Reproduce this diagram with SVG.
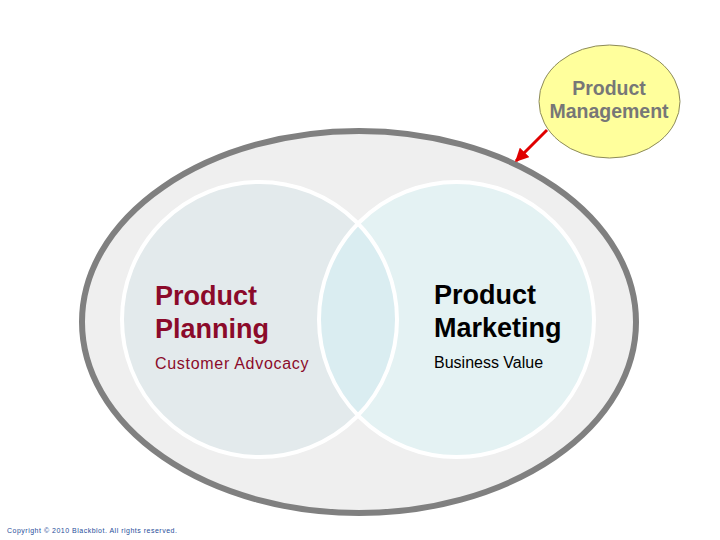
<svg xmlns="http://www.w3.org/2000/svg" width="720" height="540" viewBox="0 0 720 540">
<style>
.t{font-family:"Liberation Sans",Arial,sans-serif}
.big{font-size:27px;font-weight:bold}
.sub{font-size:16px}
.red{fill:#8b0a2a}
.blk{fill:#000}
.pm{font-size:19.5px;font-weight:bold;fill:#777777;text-anchor:middle}
</style>
<defs>
<marker id="ah" viewBox="0 0 10 10" refX="9" refY="5" markerWidth="4.5" markerHeight="4.5" orient="auto" markerUnits="strokeWidth">
<path d="M0,0 L10,5 L0,10 z" fill="#e00000"/>
</marker>
</defs>
<rect width="720" height="540" fill="#fff"/>
<g id="outer">
<ellipse cx="359" cy="322" rx="277" ry="191" fill="#efefef" stroke="#808080" stroke-width="6"/>
</g>
<g id="planning">
<circle cx="259.5" cy="319.5" r="137.5" fill="#e3eaec"/>
</g>
<g id="marketing">
<circle cx="456.5" cy="319.5" r="137.5" fill="#e4f2f3"/>
</g>
<g id="overlap">
<path d="M358,223.5 A137.5,137.5 0 0 1 358,415.5 A137.5,137.5 0 0 1 358,223.5 Z" fill="#daedf1"/>
<circle cx="259.5" cy="319.5" r="137.5" fill="none" stroke="#fff" stroke-width="4"/>
<circle cx="456.5" cy="319.5" r="137.5" fill="none" stroke="#fff" stroke-width="4"/>
</g>
<g id="planning-text">
<text class="t big red" x="155" y="305">Product</text>
<text class="t big red" x="155" y="338">Planning</text>
<text class="t sub red" x="155" y="369" letter-spacing="0.7">Customer Advocacy</text>
</g>
<g id="marketing-text">
<text class="t big blk" x="434" y="304">Product</text>
<text class="t big blk" x="434" y="337">Marketing</text>
<text class="t sub blk" x="434" y="368">Business Value</text>
</g>
<g id="product-management">
<ellipse cx="609.5" cy="101.5" rx="70.5" ry="56.5" fill="#ffff9c" stroke="#8c8a5a" stroke-width="1"/>
<text class="t pm" x="609" y="95">Product</text>
<text class="t pm" x="609" y="118">Management</text>
</g>
<g id="connectors">
<line x1="547" y1="130" x2="516" y2="161" stroke="#e00000" stroke-width="3" marker-end="url(#ah)"/>
</g>
<text class="t" x="7" y="533" font-size="7" fill="#1f4e9a" letter-spacing="0.5">Copyright © 2010 Blackblot. All rights reserved.</text>
</svg>
